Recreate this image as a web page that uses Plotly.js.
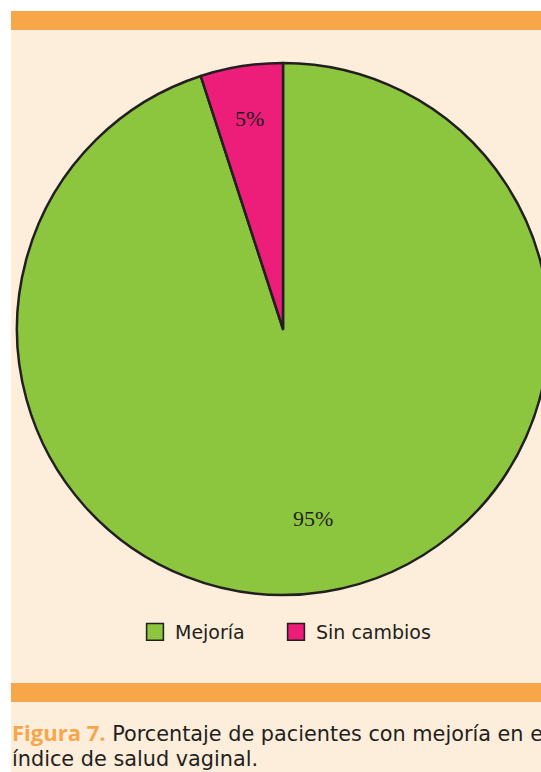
<!DOCTYPE html>
<html>
<head>
<meta charset="utf-8">
<script src="https://cdn.plot.ly/plotly-3.0.1.min.js"></script>
<style>
  html, body { margin: 0; padding: 0; overflow: hidden; background: #ffffff; }
  #chart { width: 600px; height: 772px; }
</style>
</head>
<body>
<div id="chart"></div>
<script>
// Data
var labels = ["Mejoría", "Sin cambios"];
var values = [95, 5];
var sliceColors = ["#8cc63f", "#ed1e7a"];
var captionLead = "Figura 7.";
var captionLine1 = "Porcentaje de pacientes con mejoría en el";
var captionLine2 = "índice de salud vaginal.";

var W = 600, H = 772;
function px(x) { return x / W; }
function py(y) { return (H - y) / H; }

var orange = "#f9a54a";
var cream = "#fdeddb";
var ink = "#231f20";

// pie geometry (pixels)
var pieLeft = 17, pieRight = 549, pieTop = 63, pieBottom = 595;
var cx = (pieLeft + pieRight) / 2, cy = (pieTop + pieBottom) / 2, R = (pieRight - pieLeft) / 2;
var labelRadius = [0.72, 0.80]; // fraction of radius where each percent label sits

var trace = {
  type: "pie",
  labels: labels,
  values: values,
  sort: false,
  direction: "clockwise",
  rotation: 0,
  marker: { colors: sliceColors, line: { color: ink, width: 2.5 } },
  textinfo: "none",
  hoverinfo: "none",
  domain: { x: [px(pieLeft), px(pieRight)], y: [py(pieBottom), py(pieTop)] }
};

// percent labels placed at each slice's mid-angle (clockwise from 12 o'clock)
var total = values.reduce(function (a, b) { return a + b; }, 0);
var annotations = [];
var cum = 0;
values.forEach(function (v, i) {
  var mid = (cum + v / 2) / total * 2 * Math.PI;
  cum += v;
  var r = labelRadius[i] * R;
  var x = cx + r * Math.sin(mid);
  var y = cy - r * Math.cos(mid);
  annotations.push({
    xref: "paper", yref: "paper", x: px(x), y: py(y),
    xanchor: "center", yanchor: "middle", showarrow: false,
    text: Math.round(v / total * 100) + "%",
    font: { family: "Liberation Serif, serif", size: 22, color: ink }
  });
});

annotations.push({
  xref: "paper", yref: "paper",
  x: px(10), y: py(715), xanchor: "left", yanchor: "top", align: "left",
  showarrow: false,
  text: '<span style="color:' + orange + ';font-family:\'Open Sans\', sans-serif;font-weight:bold;font-size:22px">' + captionLead + '</span> ' + captionLine1,
  font: { family: "DejaVu Sans, sans-serif", size: 20.8, color: ink }
});
annotations.push({
  xref: "paper", yref: "paper",
  x: px(10), y: py(745), xanchor: "left", yanchor: "top", align: "left",
  showarrow: false,
  text: captionLine2,
  font: { family: "DejaVu Sans, sans-serif", size: 20.8, color: ink }
});

var layout = {
  width: W,
  height: H,
  margin: { l: 0, r: 0, t: 0, b: 0 },
  paper_bgcolor: "#ffffff",
  showlegend: true,
  legend: {
    orientation: "h",
    x: px(135),
    xanchor: "left",
    y: py(613),
    yanchor: "top",
    bgcolor: "rgba(0,0,0,0)",
    entrywidth: 96,
    font: { family: "DejaVu Sans, sans-serif", size: 19, color: ink },
    traceorder: "normal"
  },
  shapes: [
    { type: "rect", xref: "paper", yref: "paper", x0: px(11), x1: 1, y0: 0, y1: py(30),
      fillcolor: cream, line: { width: 0 }, layer: "below" },
    { type: "rect", xref: "paper", yref: "paper", x0: px(11), x1: 1, y0: py(30), y1: py(11),
      fillcolor: orange, line: { width: 0 }, layer: "below" },
    { type: "rect", xref: "paper", yref: "paper", x0: px(11), x1: 1, y0: py(702), y1: py(683),
      fillcolor: orange, line: { width: 0 }, layer: "below" }
  ],
  annotations: annotations
};

Plotly.newPlot("chart", [trace], layout, { displayModeBar: false, staticPlot: true }).then(function (gd) {
  // let the legend text show in full
  gd.querySelectorAll(".legend [clip-path]").forEach(function (el) {
    el.removeAttribute("clip-path");
  });
  // enlarge the legend colour squares to match the reference
  gd.querySelectorAll(".legend .legendpoints path").forEach(function (p) {
    var t = p.getAttribute("transform") || "";
    p.setAttribute("transform", t + " scale(1.4)");
    p.style.strokeWidth = "1.1px";
    p.style.stroke = ink;
  });
});
</script>
</body>
</html>
